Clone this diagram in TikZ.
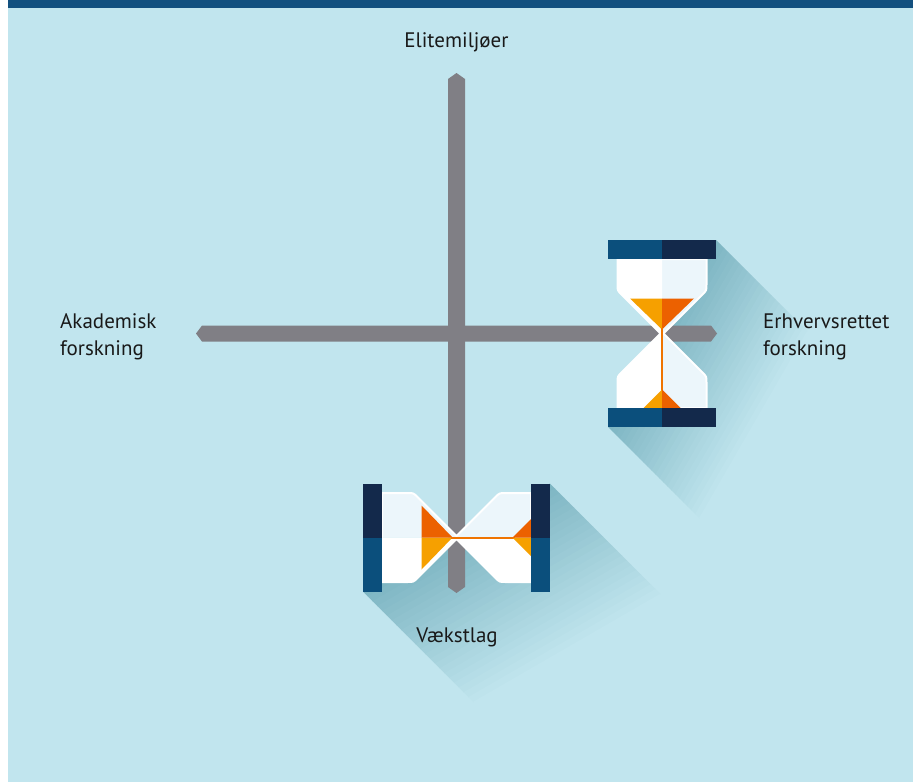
\documentclass[tikz,border=0pt]{standalone}
\usepackage{fontspec}
\setmainfont{PT Sans}
\definecolor{bg}{RGB}{193,229,238}
\definecolor{topbar}{RGB}{18,80,127}
\definecolor{capblue}{RGB}{11,79,124}
\definecolor{capnavy}{RGB}{19,41,75}
\definecolor{glasslight}{RGB}{236,246,251}
\definecolor{sandyellow}{RGB}{246,160,0}
\definecolor{sandorange}{RGB}{236,97,0}
\definecolor{axisgray}{RGB}{128,127,133}
\definecolor{shadowdark}{RGB}{126,182,195}
\tikzset{
  lbl/.style={inner sep=0pt, font=\fontsize{21}{27}\selectfont, text=black!90},
  axisbar/.style={fill=axisgray},
  glassrim/.style={draw=white, line width=2pt},
  sandstream/.style={draw=sandorange!70!sandyellow, line width=2pt}
}
\newcommand{\glassedge}{(0,-74.5) -- (44.5,-74.5) -- (44.5,-49) .. controls (44.5,-43) .. (40.3,-38.8) -- (1.5,0) -- (40.3,38.8) .. controls (44.5,43) .. (44.5,49) -- (44.5,74.5) -- (0,74.5)}
\newcommand{\hourglass}{%
  \fill[glasslight] \glassedge -- cycle;
  \fill[white,xscale=-1] \glassedge -- cycle;
  \draw[glassrim] \glassedge;
  \draw[glassrim,xscale=-1] \glassedge;
  \fill[sandyellow] (-32,-35) -- (0,-35) -- (0,-4) -- cycle;
  \fill[sandorange] (0,-35) -- (32,-35) -- (0,-4) -- cycle;
  \draw[sandstream] (0,-6) -- (0,58);
  \fill[sandyellow] (-18.5,74.5) -- (0,56) -- (0,74.5) -- cycle;
  \fill[sandorange] (0,56) -- (18.5,74.5) -- (0,74.5) -- cycle;
  \fill[capblue] (-54,-93.5) rectangle (0,-74.5);
  \fill[capnavy] (0,-93.5) rectangle (54,-74.5);
  \fill[capblue] (-54,74.5) rectangle (0,93.5);
  \fill[capnavy] (0,74.5) rectangle (54,93.5);
}
\newcommand{\castshadow}[3]{%
  \foreach \k in {0,...,23}{%
    \pgfmathsetmacro\da{#3*\k/24}\pgfmathsetmacro\db{#3*(\k+1.1)/24}\pgfmathsetmacro\pc{100-100*\k/23}%
    \fill[shadowdark!\pc!bg] (#1+\da,-#2+\da) -- (#1+\db,-#2+\db) -- (-#1+\db,#2+\db) -- (-#1+\da,#2+\da) -- cycle;}}

\begin{document}
\begin{tikzpicture}[x=1pt,y=-1pt]
\useasboundingbox (0,0) rectangle (913,782);
\fill[white] (0,0) rectangle (913,782);
\fill[bg] (8,8) rectangle (913,782);
\fill[topbar] (8,0) rectangle (913,8);

\begin{scope}[shift={(662,333.5)}] \castshadow{54}{93.5}{95} \end{scope}
\begin{scope}[shift={(456.5,537.5)}] \castshadow{93.5}{54}{115} \end{scope}

\coordinate (ytop) at (456.5,73);
\coordinate (ybot) at (456.5,593);
\coordinate (xleft) at (196,333.5);
\coordinate (xright) at (717,333.5);
\fill[axisbar] (xleft) -- ++(6,-8) -- ++(509,0) -- (xright) -- ++(-6,8) -- ++(-509,0) -- cycle;
\fill[axisbar] (ytop) -- ++(8.5,6) -- ++(0,508) -- (ybot) -- ++(-8.5,-6) -- ++(0,-508) -- cycle;

\begin{scope}[shift={(662,333.5)}] \hourglass \end{scope}
\begin{scope}[shift={(456.5,537.5)},rotate=90] \hourglass \end{scope}

\node[lbl] (elite) at (456.5,42) {Elitemiljøer};
\node[lbl, anchor=west, align=left] (akad) at (60,337) {Akademisk\\forskning};
\node[lbl, anchor=west, align=left] (erhverv) at (763,337) {Erhvervsrettet\\forskning};
\node[lbl] (vekst) at (457,637) {Vækstlag};
\end{tikzpicture}
\end{document}
